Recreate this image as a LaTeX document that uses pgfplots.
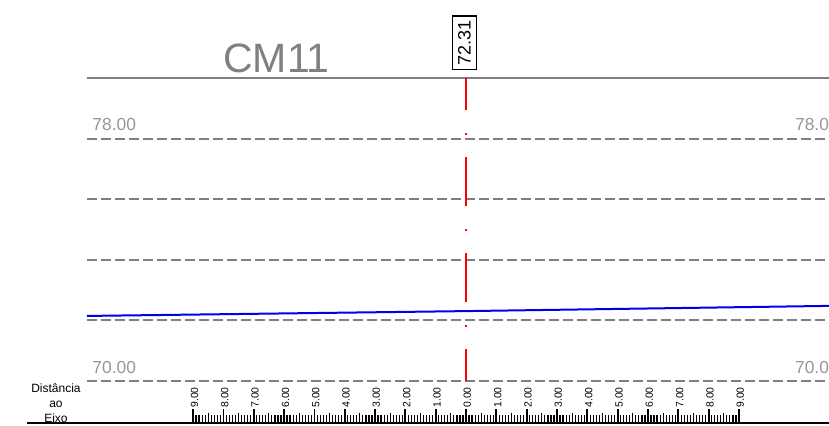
\documentclass[border=0pt]{standalone}
\usepackage{pgfplots}
\pgfplotsset{compat=1.18}
\usepackage{fontspec}
\setmainfont{Liberation Sans}
\definecolor{linegray}{RGB}{128,128,128}
\definecolor{labgray}{RGB}{150,150,150}
\definecolor{titlegray}{RGB}{128,128,128}
\definecolor{terrain}{RGB}{0,0,235}
\begin{document}
\begin{tikzpicture}
\begin{axis}[
  scale only axis, width=414.5pt, height=213pt,
  xmin=-15.364, xmax=11.968, ymin=68.512, ymax=82.595,
  hide axis, clip=true]
% top solid line
\addplot[linegray, line width=1pt] coordinates {(-12.5,80) (12.6,80)};
% dashed elevation lines
\addplot[linegray, line width=1pt, dash pattern=on 5pt off 2pt] coordinates {(-12.5,78) (12.6,78)};
\addplot[linegray, line width=1pt, dash pattern=on 5pt off 2pt] coordinates {(-12.5,76) (12.6,76)};
\addplot[linegray, line width=1pt, dash pattern=on 5pt off 2pt] coordinates {(-12.5,74) (12.6,74)};
\addplot[linegray, line width=1pt, dash pattern=on 5pt off 2pt] coordinates {(-12.5,72) (12.6,72)};
\addplot[linegray, line width=1pt, dash pattern=on 5pt off 2pt] coordinates {(-12.5,70) (12.6,70)};
% terrain line
\addplot[terrain, line width=1pt] coordinates {(-12.5,72.15) (0,72.31) (12.5,72.49)};
% axis (red dash-dot)
\addplot[red, line width=1pt, dash pattern=on 24.5pt off 11.5pt on 0.75pt off 11.25pt, dash phase=8.5pt] coordinates {(0,80) (0,70)};
% bottom baseline
\addplot[black, line width=0.9pt] coordinates {(-14.47,68.6) (12.6,68.6)};
% ruler: minor ticks (vertical bar marks centred half-way up each tick)
\addplot[black, only marks, mark=|, mark size=1.97pt, line width=0.6pt] coordinates {
(-8.9,68.73)(-8.8,68.73)(-8.7,68.73)(-8.6,68.73)(-8.4,68.73)(-8.3,68.73)(-8.2,68.73)(-8.1,68.73)
(-7.9,68.73)(-7.8,68.73)(-7.7,68.73)(-7.6,68.73)(-7.4,68.73)(-7.3,68.73)(-7.2,68.73)(-7.1,68.73)
(-6.9,68.73)(-6.8,68.73)(-6.7,68.73)(-6.6,68.73)(-6.4,68.73)(-6.3,68.73)(-6.2,68.73)(-6.1,68.73)
(-5.9,68.73)(-5.8,68.73)(-5.7,68.73)(-5.6,68.73)(-5.4,68.73)(-5.3,68.73)(-5.2,68.73)(-5.1,68.73)
(-4.9,68.73)(-4.8,68.73)(-4.7,68.73)(-4.6,68.73)(-4.4,68.73)(-4.3,68.73)(-4.2,68.73)(-4.1,68.73)
(-3.9,68.73)(-3.8,68.73)(-3.7,68.73)(-3.6,68.73)(-3.4,68.73)(-3.3,68.73)(-3.2,68.73)(-3.1,68.73)
(-2.9,68.73)(-2.8,68.73)(-2.7,68.73)(-2.6,68.73)(-2.4,68.73)(-2.3,68.73)(-2.2,68.73)(-2.1,68.73)
(-1.9,68.73)(-1.8,68.73)(-1.7,68.73)(-1.6,68.73)(-1.4,68.73)(-1.3,68.73)(-1.2,68.73)(-1.1,68.73)
(-0.9,68.73)(-0.8,68.73)(-0.7,68.73)(-0.6,68.73)(-0.4,68.73)(-0.3,68.73)(-0.2,68.73)(-0.1,68.73)
(0.1,68.73)(0.2,68.73)(0.3,68.73)(0.4,68.73)(0.6,68.73)(0.7,68.73)(0.8,68.73)(0.9,68.73)
(1.1,68.73)(1.2,68.73)(1.3,68.73)(1.4,68.73)(1.6,68.73)(1.7,68.73)(1.8,68.73)(1.9,68.73)
(2.1,68.73)(2.2,68.73)(2.3,68.73)(2.4,68.73)(2.6,68.73)(2.7,68.73)(2.8,68.73)(2.9,68.73)
(3.1,68.73)(3.2,68.73)(3.3,68.73)(3.4,68.73)(3.6,68.73)(3.7,68.73)(3.8,68.73)(3.9,68.73)
(4.1,68.73)(4.2,68.73)(4.3,68.73)(4.4,68.73)(4.6,68.73)(4.7,68.73)(4.8,68.73)(4.9,68.73)
(5.1,68.73)(5.2,68.73)(5.3,68.73)(5.4,68.73)(5.6,68.73)(5.7,68.73)(5.8,68.73)(5.9,68.73)
(6.1,68.73)(6.2,68.73)(6.3,68.73)(6.4,68.73)(6.6,68.73)(6.7,68.73)(6.8,68.73)(6.9,68.73)
(7.1,68.73)(7.2,68.73)(7.3,68.73)(7.4,68.73)(7.6,68.73)(7.7,68.73)(7.8,68.73)(7.9,68.73)
(8.1,68.73)(8.2,68.73)(8.3,68.73)(8.4,68.73)(8.6,68.73)(8.7,68.73)(8.8,68.73)(8.9,68.73)
};
% ruler: half-metre ticks
\addplot[black, only marks, mark=|, mark size=2.65pt, line width=0.6pt] coordinates {
(-8.5,68.775)(-7.5,68.775)(-6.5,68.775)(-5.5,68.775)(-4.5,68.775)(-3.5,68.775)(-2.5,68.775)(-1.5,68.775)(-0.5,68.775)
(0.5,68.775)(1.5,68.775)(2.5,68.775)(3.5,68.775)(4.5,68.775)(5.5,68.775)(6.5,68.775)(7.5,68.775)(8.5,68.775)
};
% ruler: metre ticks
\addplot[black, only marks, mark=|, mark size=3.55pt, line width=0.85pt] coordinates {
(-9,68.835)(-8,68.835)(-7,68.835)(-6,68.835)(-5,68.835)(-4,68.835)(-3,68.835)(-2,68.835)(-1,68.835)(0,68.835)
(1,68.835)(2,68.835)(3,68.835)(4,68.835)(5,68.835)(6,68.835)(7,68.835)(8,68.835)(9,68.835)
};
% ruler labels
\addplot[only marks, mark=none, nodes near coords, point meta=explicit symbolic,
  nodes near coords style={xshift=0.7pt, rotate=90, anchor=west, inner sep=0.6pt, black,
  font=\fontsize{5.2}{6}\selectfont}] table[meta=lab] {
x y lab
-9 69.07 9.00
-8 69.07 8.00
-7 69.07 7.00
-6 69.07 6.00
-5 69.07 5.00
-4 69.07 4.00
-3 69.07 3.00
-2 69.07 2.00
-1 69.07 1.00
0 69.07 0.00
1 69.07 1.00
2 69.07 2.00
3 69.07 3.00
4 69.07 4.00
5 69.07 5.00
6 69.07 6.00
7 69.07 7.00
8 69.07 8.00
9 69.07 9.00
};
% texts
\node[anchor=base, text=titlegray, font=\fontsize{20.5}{24}\selectfont, inner sep=0pt] at (axis cs:-6.25,80.19) {CM11};
\node[anchor=base west, text=labgray, font=\fontsize{8.7}{10}\selectfont, inner sep=0pt] at (axis cs:-12.33,78.28) {78.00};
\node[anchor=base west, text=labgray, font=\fontsize{8.7}{10}\selectfont, inner sep=0pt] at (axis cs:-12.33,70.26) {70.00};
\node[anchor=base east, text=labgray, font=\fontsize{8.7}{10}\selectfont, inner sep=0pt] at (axis cs:12.30,78.28) {78.00};
\node[anchor=base east, text=labgray, font=\fontsize{8.7}{10}\selectfont, inner sep=0pt] at (axis cs:12.30,70.26) {70.00};
\node[draw=black, line width=0.8pt, rotate=90, inner xsep=2pt, inner ysep=2.8pt, font=\fontsize{9}{10}\selectfont] at (axis cs:-0.05,81.18) {72.31};
\node[align=center, font=\fontsize{6}{7.5}\selectfont, text=black, inner sep=0pt] at (axis cs:-13.52,69.27) {Distância\\ao\\Eixo};
\end{axis}
\pgfresetboundingbox
\path[use as bounding box] (current axis.south west) rectangle (current axis.north east);
\end{tikzpicture}
\end{document}
